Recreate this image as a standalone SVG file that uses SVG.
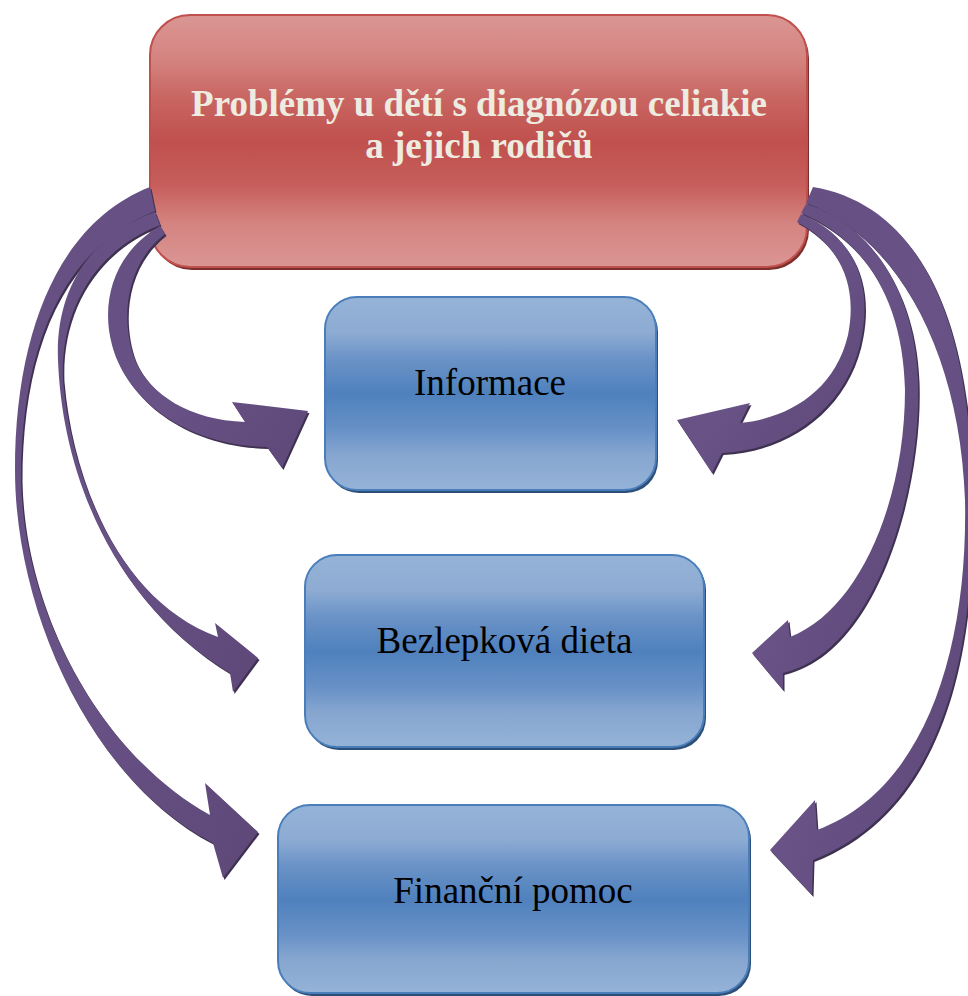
<svg xmlns="http://www.w3.org/2000/svg" width="968" height="996" viewBox="0 0 968 996">
<defs>
<linearGradient id="gRed" x1="0" y1="0" x2="0" y2="1">
<stop offset="0" stop-color="#da9694"/>
<stop offset="0.18" stop-color="#d4837f"/>
<stop offset="0.32" stop-color="#c96763"/>
<stop offset="0.5" stop-color="#c0504d"/>
<stop offset="0.68" stop-color="#c65f5c"/>
<stop offset="0.82" stop-color="#d4827f"/>
<stop offset="1" stop-color="#da9694"/>
</linearGradient>
<linearGradient id="gBlue" x1="0" y1="0" x2="0" y2="1">
<stop offset="0" stop-color="#95b3d7"/>
<stop offset="0.18" stop-color="#8eacd3"/>
<stop offset="0.32" stop-color="#6b93c7"/>
<stop offset="0.5" stop-color="#4f81bd"/>
<stop offset="0.68" stop-color="#6690c6"/>
<stop offset="0.82" stop-color="#86a6d0"/>
<stop offset="1" stop-color="#95b3d7"/>
</linearGradient>
<linearGradient id="gArrow" x1="0" y1="0" x2="1" y2="1">
<stop offset="0" stop-color="#665082"/>
<stop offset="0.5" stop-color="#685286"/>
<stop offset="1" stop-color="#5e4878"/>
</linearGradient>
</defs>
<style>
.redsh{fill:#7d2f2d}
.red{fill:url(#gRed);stroke:#c0504d;stroke-width:2}
.bluesh{fill:#2c4e77}
.blue{fill:url(#gBlue);stroke:#4a7ebb;stroke-width:2}
.arrowsh{fill:#3f3151}
.arrow{fill:url(#gArrow)}
.t1{font-family:"Liberation Serif","Times New Roman",serif;font-weight:bold;font-size:37px;fill:#eeece1;text-anchor:middle}
.t2{font-family:"Liberation Serif","Times New Roman",serif;font-size:37px;fill:#000;text-anchor:middle}
</style>
<rect width="968" height="996" fill="#fff"/>
<g id="node-problemy">
<rect class="redsh" x="152" y="18" width="657" height="252" rx="40"/>
<rect class="red" x="150" y="15" width="657" height="252" rx="40"/>
<text class="t1" x="479" y="116">Problémy u dětí s diagnózou celiakie</text>
<text class="t1" x="479" y="158">a jejich rodičů</text>
</g>
<g id="node-informace">
<rect class="bluesh" x="327" y="300" width="331" height="193" rx="32"/>
<rect class="blue" x="325" y="297" width="331" height="193" rx="32"/>
<text class="t2" x="490" y="395">Informace</text>
</g>
<g id="node-dieta">
<rect class="bluesh" x="307" y="558" width="399" height="192" rx="32"/>
<rect class="blue" x="305" y="555" width="399" height="192" rx="32"/>
<text class="t2" x="504.5" y="653">Bezlepková dieta</text>
</g>
<g id="node-pomoc">
<rect class="bluesh" x="280" y="808" width="471" height="188" rx="32"/>
<rect class="blue" x="278" y="805" width="471" height="188" rx="32"/>
<text class="t2" x="513" y="903">Finanční pomoc</text>
</g>
<g id="connectors">
<g transform="translate(1.5,2)">
<path class="arrowsh" d="M 150,187 C 60,222 15,330 15,470 C 15,610 90,780 213,843 L 223,878 L 258,832 L 205,783 L 210,815 C 105,757 24,618 21,480 C 21,350 60,250 155,211 Z"/>
<path class="arrowsh" d="M 155,212 C 90,235 55,290 58,360 C 62,470 110,600 230,673 L 233,692 L 258,658 L 215,623 L 218,637 C 122,602 72,485 63,380 C 60,310 95,250 160,225 Z"/>
<path class="arrowsh" d="M 160,226 C 115,252 100,300 112,345 C 125,395 180,445 267,447 L 282,468 L 308,411 L 232,402 L 245,422 C 190,420 150,395 135,360 C 120,320 125,265 165,234 Z"/>
<path class="arrowsh" d="M 813,187 C 920,205 972,320 972,500 C 975,660 940,810 813,860 L 812,895 L 770,850 L 815,800 L 817,830 C 925,790 968,650 965,500 C 960,350 895,235 806,203 Z"/>
<path class="arrowsh" d="M 806,204 C 868,222 915,290 918,380 C 922,480 880,650 783,673 L 783,690 L 752,653 L 788,620 L 790,637 C 860,610 905,500 905,390 C 903,300 865,240 801,213 Z"/>
<path class="arrowsh" d="M 801,214 C 852,235 872,280 862,335 C 850,405 790,450 722,453 L 712,473 L 677,420 L 750,403 L 740,423 C 790,418 835,390 848,335 C 858,285 840,245 797,222 Z"/>
</g>
<path id="arrow-l3" class="arrow" d="M 150,187 C 60,222 15,330 15,470 C 15,610 90,780 213,843 L 223,878 L 258,832 L 205,783 L 210,815 C 105,757 24,618 21,480 C 21,350 60,250 155,211 Z"/>
<path id="arrow-l2" class="arrow" d="M 155,212 C 90,235 55,290 58,360 C 62,470 110,600 230,673 L 233,692 L 258,658 L 215,623 L 218,637 C 122,602 72,485 63,380 C 60,310 95,250 160,225 Z"/>
<path id="arrow-l1" class="arrow" d="M 160,226 C 115,252 100,300 112,345 C 125,395 180,445 267,447 L 282,468 L 308,411 L 232,402 L 245,422 C 190,420 150,395 135,360 C 120,320 125,265 165,234 Z"/>
<path id="arrow-r3" class="arrow" d="M 813,187 C 920,205 972,320 972,500 C 975,660 940,810 813,860 L 812,895 L 770,850 L 815,800 L 817,830 C 925,790 968,650 965,500 C 960,350 895,235 806,203 Z"/>
<path id="arrow-r2" class="arrow" d="M 806,204 C 868,222 915,290 918,380 C 922,480 880,650 783,673 L 783,690 L 752,653 L 788,620 L 790,637 C 860,610 905,500 905,390 C 903,300 865,240 801,213 Z"/>
<path id="arrow-r1" class="arrow" d="M 801,214 C 852,235 872,280 862,335 C 850,405 790,450 722,453 L 712,473 L 677,420 L 750,403 L 740,423 C 790,418 835,390 848,335 C 858,285 840,245 797,222 Z"/>
</g>
</svg>
